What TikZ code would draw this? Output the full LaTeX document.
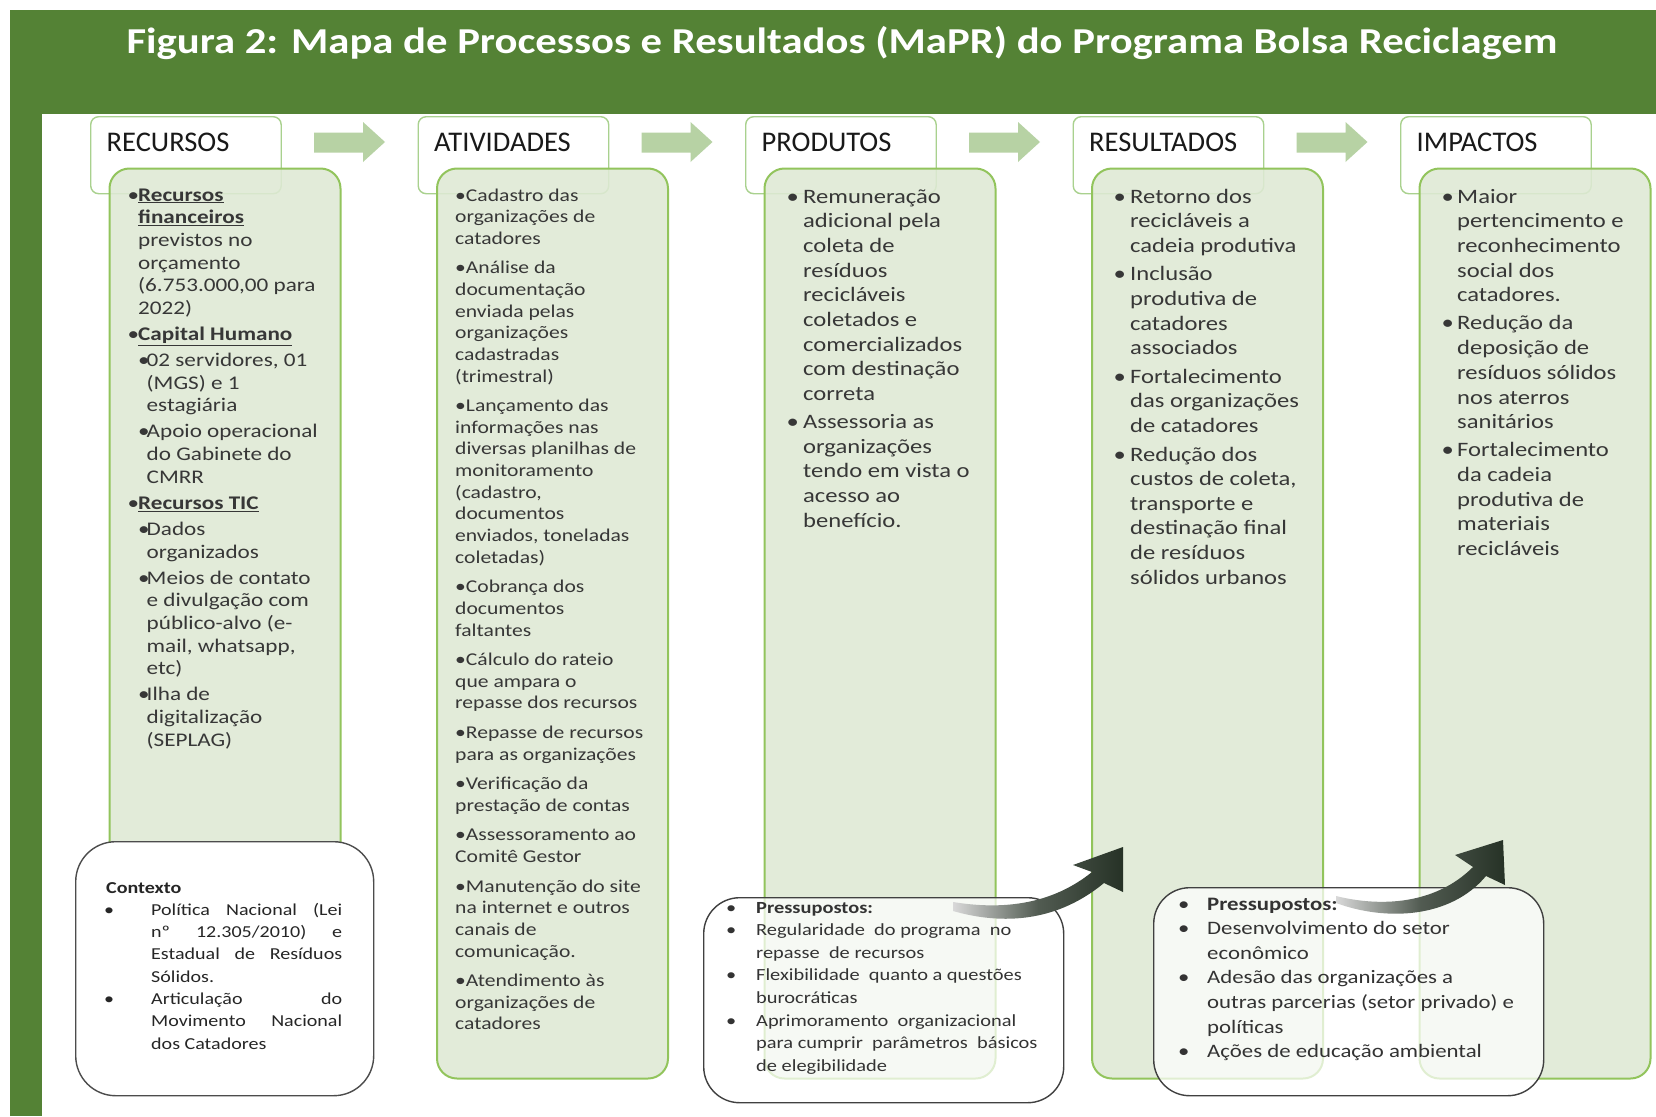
\documentclass[tikz,border=0pt]{standalone}
\usepackage{fontspec}
\setmainfont{Carlito}
\newfontfamily\bodyf[FakeStretch=1.2]{Carlito}
\newfontfamily\titlef[FakeStretch=1.17]{Carlito}
\usetikzlibrary{calc}
\definecolor{bggreen}{RGB}{84,130,53}
\definecolor{hdrline}{RGB}{169,209,142}
\definecolor{boxline}{RGB}{146,196,92}
\definecolor{boxfill}{RGB}{222,233,212}
\definecolor{arrowgreen}{RGB}{183,210,164}
\definecolor{darkarrow}{RGB}{38,50,38}
\definecolor{txt}{RGB}{55,55,55}
\newcommand\bl[1]{\makebox[#1][l]{\textbullet}}
\newcommand\ii[1]{\hspace*{#1}}
\newcommand\js[1]{\makebox[191pt][s]{#1}}
\tikzset{
  hdrbox/.style={draw=hdrline, line width=1.4pt, rounded corners=8pt, fill=white, anchor=north west, inner sep=0pt},
  cbox/.style={draw=boxline, line width=2pt, rounded corners=20pt, fill=boxfill, fill opacity=0.88, anchor=north west, inner sep=0pt},
  ctxbox/.style={draw=black!70, line width=1.4pt, rounded corners=40pt, fill=white, anchor=north west, inner sep=0pt},
  prebox/.style={draw=black!75, line width=1.4pt, rounded corners=36pt, fill=white, fill opacity=0.72, anchor=north west, inner sep=0pt},
  hdrtxt/.style={font=\fontsize{28.5}{30}\selectfont, text=black!90, anchor=base west, inner sep=0pt},
  bodytxt/.style={text=txt, anchor=base west, inner sep=0pt},
  blockarrow/.style={fill=arrowgreen},
  curvearrow/.style={left color=black!15, right color=darkarrow, middle color=darkarrow!80!white}
}
\begin{document}
\begin{tikzpicture}[x=1pt,y=-1pt]
\useasboundingbox (0,0) rectangle (1656,1116);
\fill[white] (0,0) rectangle (1656,1116);
\fill[bggreen] (10,10) rectangle (1656,1116);
\fill[white] (42,114) rectangle (1656,1116);

% title
\node[font=\titlef\bfseries\fontsize{36.5}{40}\selectfont, text=white, anchor=base, inner sep=0pt] (title) at (842,54)
  {Figura 2: Mapa de Processos e Resultados (MaPR) do Programa Bolsa Reciclagem};

% header boxes
\foreach \i/\lab/\nm in {0/RECURSOS/h1, 1/ATIVIDADES/h2, 2/PRODUTOS/h3, 3/RESULTADOS/h4, 4/IMPACTOS/h5}{
  \node[hdrbox, minimum width=190.5pt, minimum height=77pt] (\nm) at (90+327.5*\i,116) {};
  \node[hdrtxt] (\nm t) at (106.5+327.5*\i,151.7) {\lab};
}
% block arrows
\foreach \i in {0,1,2,3}{
  \fill[blockarrow] (314+327.5*\i,132.5) -- (363+327.5*\i,132.5) -- (363+327.5*\i,122) -- (385+327.5*\i,142)
     -- (363+327.5*\i,162) -- (363+327.5*\i,152.5) -- (314+327.5*\i,152.5) -- cycle;
}
% content boxes
\foreach \i/\nm in {0/c1,1/c2,2/c3,3/c4,4/c5}{
  \node[cbox, minimum width=231pt, minimum height=910pt] (\nm) at (108.5+327.5*\i,167.5) {};
}

% RECURSOS text
\node[bodytxt, font=\bodyf\fontsize{19.3}{22.7}\selectfont] (tR) at (127.5,201) {\begin{tabular}[t]{@{}l@{}}
\bl{10.5pt}\underline{\textbf{Recursos}}\\
\ii{10.5pt}\underline{\textbf{financeiros}}\\
\ii{10.5pt}previstos no\\
\ii{10.5pt}orçamento\\
\ii{10.5pt}(6.753.000,00 para\\
\ii{10.5pt}2022)\\[3.3pt]
\bl{10.5pt}\underline{\textbf{Capital Humano}}\\[3.3pt]
\ii{10.5pt}\bl{8.5pt}02 servidores, 01\\
\ii{19pt}(MGS) e 1\\
\ii{19pt}estagiária\\[3.3pt]
\ii{10.5pt}\bl{8.5pt}Apoio operacional\\
\ii{19pt}do Gabinete do\\
\ii{19pt}CMRR\\[3.3pt]
\bl{10.5pt}\underline{\textbf{Recursos TIC}}\\[3.3pt]
\ii{10.5pt}\bl{8.5pt}Dados\\
\ii{19pt}organizados\\[3.3pt]
\ii{10.5pt}\bl{8.5pt}Meios de contato\\
\ii{19pt}e divulgação com\\
\ii{19pt}público-alvo (e-\\
\ii{19pt}mail, whatsapp,\\
\ii{19pt}etc)\\[3.3pt]
\ii{10.5pt}\bl{8.5pt}Ilha de\\
\ii{19pt}digitalização\\
\ii{19pt}(SEPLAG)
\end{tabular}};

% ATIVIDADES text
\node[bodytxt, font=\bodyf\fontsize{18}{21.65}\selectfont] (tA) at (455,201) {\begin{tabular}[t]{@{}l@{}}
\textbullet Cadastro das\\
organizações de\\
catadores\\[7.9pt]
\textbullet Análise da\\
documentação\\
enviada pelas\\
organizações\\
cadastradas\\
(trimestral)\\[7.9pt]
\textbullet Lançamento das\\
informações nas\\
diversas planilhas de\\
monitoramento\\
(cadastro,\\
documentos\\
enviados, toneladas\\
coletadas)\\[7.9pt]
\textbullet Cobrança dos\\
documentos\\
faltantes\\[7.9pt]
\textbullet Cálculo do rateio\\
que ampara o\\
repasse dos recursos\\[7.9pt]
\textbullet Repasse de recursos\\
para as organizações\\[7.9pt]
\textbullet Verificação da\\
prestação de contas\\[7.9pt]
\textbullet Assessoramento ao\\
Comitê Gestor\\[7.9pt]
\textbullet Manutenção do site\\
na internet e outros\\
canais de\\
comunicação.\\[7.9pt]
\textbullet Atendimento às\\
organizações de\\
catadores
\end{tabular}};

% PRODUTOS text
\node[bodytxt, font=\bodyf\fontsize{20.5}{24.7}\selectfont] (tP) at (786.5,203) {\begin{tabular}[t]{@{}l@{}}
\bl{16.5pt}Remuneração\\
\ii{16.5pt}adicional pela\\
\ii{16.5pt}coleta de\\
\ii{16.5pt}resíduos\\
\ii{16.5pt}recicláveis\\
\ii{16.5pt}coletados e\\
\ii{16.5pt}comercializados\\
\ii{16.5pt}com destinação\\
\ii{16.5pt}correta\\[3pt]
\bl{16.5pt}Assessoria as\\
\ii{16.5pt}organizações\\
\ii{16.5pt}tendo em vista o\\
\ii{16.5pt}acesso ao\\
\ii{16.5pt}benefício.
\end{tabular}};

% RESULTADOS text
\node[bodytxt, font=\bodyf\fontsize{20.5}{24.6}\selectfont] (tS) at (1113.5,203) {\begin{tabular}[t]{@{}l@{}}
\bl{16.5pt}Retorno dos\\
\ii{16.5pt}recicláveis a\\
\ii{16.5pt}cadeia produtiva\\[4pt]
\bl{16.5pt}Inclusão\\
\ii{16.5pt}produtiva de\\
\ii{16.5pt}catadores\\
\ii{16.5pt}associados\\[4pt]
\bl{16.5pt}Fortalecimento\\
\ii{16.5pt}das organizações\\
\ii{16.5pt}de catadores\\[4pt]
\bl{16.5pt}Redução dos\\
\ii{16.5pt}custos de coleta,\\
\ii{16.5pt}transporte e\\
\ii{16.5pt}destinação final\\
\ii{16.5pt}de resíduos\\
\ii{16.5pt}sólidos urbanos
\end{tabular}};

% IMPACTOS text
\node[bodytxt, font=\bodyf\fontsize{20.5}{24.7}\selectfont] (tI) at (1441.5,203) {\begin{tabular}[t]{@{}l@{}}
\bl{15.5pt}Maior\\
\ii{15.5pt}pertencimento e\\
\ii{15.5pt}reconhecimento\\
\ii{15.5pt}social dos\\
\ii{15.5pt}catadores.\\[3.4pt]
\bl{15.5pt}Redução da\\
\ii{15.5pt}deposição de\\
\ii{15.5pt}resíduos sólidos\\
\ii{15.5pt}nos aterros\\
\ii{15.5pt}sanitários\\[3.4pt]
\bl{15.5pt}Fortalecimento\\
\ii{15.5pt}da cadeia\\
\ii{15.5pt}produtiva de\\
\ii{15.5pt}materiais\\
\ii{15.5pt}recicláveis
\end{tabular}};

% Contexto
\node[ctxbox, minimum width=298pt, minimum height=254pt] (ctx) at (75,841) {};
\node[bodytxt, text=black!85, font=\bodyf\fontsize{16.7}{22.3}\selectfont] (ctxt) at (106,893) {\begin{tabular}[t]{@{}l@{}}
\textbf{Contexto}\\
\ii{-2pt}\bl{47pt}\js{Política Nacional (Lei}\\
\ii{45pt}\js{nº 12.305/2010) e}\\
\ii{45pt}\js{Estadual de Resíduos}\\
\ii{45pt}Sólidos.\\
\ii{-2pt}\bl{47pt}\js{Articulação do}\\
\ii{45pt}\js{Movimento Nacional}\\
\ii{45pt}dos Catadores
\end{tabular}};

% Pressupostos (PRODUTOS)
\node[prebox, minimum width=360pt, minimum height=205pt] (pre1) at (703,897) {};
\node[bodytxt, text=black!80, font=\bodyf\fontsize{17}{22.6}\selectfont] (pre1t) at (726,913) {\begin{tabular}[t]{@{}l@{}}
\bl{30pt}\textbf{Pressupostos:}\\
\bl{30pt}Regularidade\ \ do programa\ \ no\\
\ii{30pt}repasse\ \ de recursos\\
\bl{30pt}Flexibilidade\ \ quanto a questões\\
\ii{30pt}burocráticas\\
\bl{30pt}Aprimoramento\ \ organizacional\\
\ii{30pt}para cumprir\ \ parâmetros\ \ básicos\\
\ii{30pt}de elegibilidade
\end{tabular}};

% Pressupostos (RESULTADOS)
\node[prebox, minimum width=390pt, minimum height=208pt] (pre2) at (1153,887) {};
\node[bodytxt, text=black!80, font=\bodyf\fontsize{19}{24.6}\selectfont] (pre2t) at (1178,910) {\begin{tabular}[t]{@{}l@{}}
\bl{29pt}\textbf{Pressupostos:}\\
\bl{29pt}Desenvolvimento do setor\\
\ii{29pt}econômico\\
\bl{29pt}Adesão das organizações a\\
\ii{29pt}outras parcerias (setor privado) e\\
\ii{29pt}políticas\\
\bl{29pt}Ações de educação ambiental
\end{tabular}};

% curved arrows
\shade[curvearrow] (953,902) .. controls (990,908) and (1045,910) .. (1092,872) -- (1073,865) -- (1123,847)
   -- (1123,892) -- (1104,883) .. controls (1052,926) and (995,923) .. (953,911) -- cycle;
\shade[curvearrow] (1336,896) .. controls (1380,907) and (1435,905) .. (1473,867) -- (1455,855) -- (1503,840)
   -- (1505,885) -- (1486,876) .. controls (1450,919) and (1385,921) .. (1336,903) -- cycle;
\end{tikzpicture}
\end{document}
